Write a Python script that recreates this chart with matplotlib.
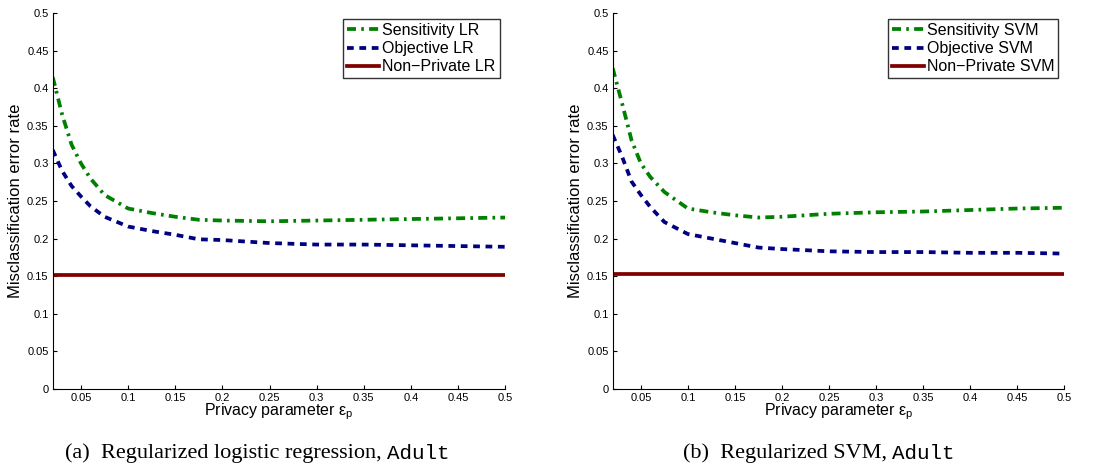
import matplotlib
matplotlib.use("Agg")
import matplotlib.pyplot as plt
import numpy as np

# ---- data ----
eps = [0.02, 0.03, 0.04, 0.05, 0.06, 0.075, 0.1, 0.125, 0.15, 0.175, 0.2, 0.25, 0.3, 0.35, 0.4, 0.45, 0.5]

lr_sens = [0.415, 0.365, 0.325, 0.300, 0.280, 0.258, 0.240, 0.234, 0.229, 0.225, 0.224, 0.223, 0.224, 0.225, 0.226, 0.227, 0.228]
lr_obj = [0.318, 0.290, 0.270, 0.256, 0.243, 0.229, 0.216, 0.210, 0.205, 0.199, 0.198, 0.194, 0.192, 0.192, 0.191, 0.190, 0.189]
lr_nonpriv = 0.152

svm_sens = [0.427, 0.380, 0.331, 0.300, 0.282, 0.262, 0.240, 0.235, 0.231, 0.228, 0.229, 0.233, 0.235, 0.236, 0.238, 0.240, 0.241]
svm_obj = [0.338, 0.309, 0.276, 0.258, 0.242, 0.222, 0.206, 0.200, 0.194, 0.188, 0.186, 0.183, 0.182, 0.182, 0.181, 0.181, 0.180]
svm_nonpriv = 0.153

xticks = [0.05, 0.1, 0.15, 0.2, 0.25, 0.3, 0.35, 0.4, 0.45, 0.5]
xticklabels = ["0.05", "0.1", "0.15", "0.2", "0.25", "0.3", "0.35", "0.4", "0.45", "0.5"]
yticks = [0, 0.05, 0.1, 0.15, 0.2, 0.25, 0.3, 0.35, 0.4, 0.45, 0.5]
yticklabels = ["0", "0.05", "0.1", "0.15", "0.2", "0.25", "0.3", "0.35", "0.4", "0.45", "0.5"]

panels = [
    dict(sens=lr_sens, obj=lr_obj, non=lr_nonpriv, names=["Sensitivity LR", "Objective LR", "Non\u2212Private LR"]),
    dict(sens=svm_sens, obj=svm_obj, non=svm_nonpriv, names=["Sensitivity SVM", "Objective SVM", "Non\u2212Private SVM"]),
]

GREEN = "#008000"
BLUE = "#000080"
RED = "#800000"

plt.rcParams['font.family'] = ['Liberation Sans', 'DejaVu Sans']
plt.rcParams['mathtext.fontset'] = 'custom'
plt.rcParams['mathtext.rm'] = 'Liberation Sans'
plt.rcParams['mathtext.it'] = 'Liberation Sans'

fig = plt.figure(figsize=(11.01, 4.69), dpi=100)
positions = [[0.0479, 0.1712, 0.4110, 0.8004], [0.5565, 0.1712, 0.4099, 0.8004]]

for pos, p in zip(positions, panels):
    ax = fig.add_axes(pos)
    ax.plot(eps, p["sens"], color=GREEN, lw=2.7, dashes=(2.4, 1.4, 0.7, 1.4), label=p["names"][0])
    ax.plot(eps, p["obj"], color=BLUE, lw=2.7, dashes=(1.8, 1.5), label=p["names"][1])
    ax.plot([eps[0], eps[-1]], [p["non"], p["non"]], color=RED, lw=2.7, label=p["names"][2])
    ax.set_xlim(0.02, 0.5)
    ax.set_ylim(0, 0.5)
    ax.set_xticks(xticks)
    ax.set_xticklabels(xticklabels)
    ax.set_yticks(yticks)
    ax.set_yticklabels(yticklabels)
    ax.tick_params(direction='in', labelsize=8, length=3, pad=3)
    for s in ['top', 'right']:
        ax.spines[s].set_visible(False)
    ax.set_xlabel(r"Privacy parameter $\mathregular{\epsilon_p}$", fontsize=11.5, labelpad=-1)
    ax.set_ylabel("Misclassification error rate", fontsize=12, labelpad=3)
    leg = ax.legend(loc='upper right', fontsize=11.5, frameon=True, fancybox=False,
                    edgecolor='black', handlelength=2.0, handletextpad=0.2,
                    borderpad=0.25, labelspacing=0.2, borderaxespad=0.35)
    leg.get_frame().set_linewidth(1.0)

caps = [("(a)  Regularized logistic regression, ", 0.059), ("(b)  Regularized SVM, ", 0.620)]
for text, x in caps:
    t = fig.text(x, 0.012, text, fontsize=16, family='Liberation Serif', ha='left', va='bottom')
    plt.annotate("Adult", xy=(1, 0), xycoords=t, fontsize=15, family='Liberation Mono',
                 ha='left', va='bottom', annotation_clip=False)

fig.savefig("out.png", dpi=100)
